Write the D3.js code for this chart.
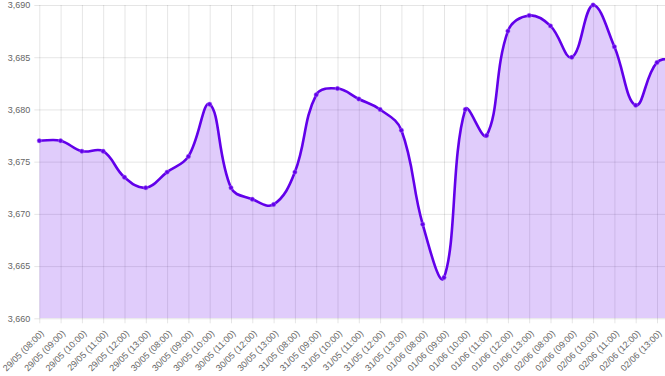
<!DOCTYPE html>
<html>
<head>
<meta charset="utf-8">
<script src="https://cdn.jsdelivr.net/npm/d3@7"></script>
<style>
  body { margin: 0; background: #fff; }
  svg { display: block; font-family: "Liberation Sans", Arial, sans-serif; }
  .tick text { fill: #666; font-size: 9px; }
</style>
</head>
<body>
<div class="svg_container"></div>
<script>
// one point per hour, 08:00 - 13:00, five days (last point sits past the right edge)
var labels = [
    "29/05 (08:00)", "29/05 (09:00)", "29/05 (10:00)", "29/05 (11:00)", "29/05 (12:00)", "29/05 (13:00)",
    "30/05 (08:00)", "30/05 (09:00)", "30/05 (10:00)", "30/05 (11:00)", "30/05 (12:00)", "30/05 (13:00)",
    "31/05 (08:00)", "31/05 (09:00)", "31/05 (10:00)", "31/05 (11:00)", "31/05 (12:00)", "31/05 (13:00)",
    "01/06 (08:00)", "01/06 (09:00)", "01/06 (10:00)", "01/06 (11:00)", "01/06 (12:00)", "01/06 (13:00)",
    "02/06 (08:00)", "02/06 (09:00)", "02/06 (10:00)", "02/06 (11:00)", "02/06 (12:00)", "02/06 (13:00)",
    "03/06 (08:00)"
];
var values = [
    3677.0, 3677.0, 3676.0, 3676.0, 3673.5, 3672.5,
    3674.0, 3675.5, 3680.5, 3672.5, 3671.4, 3670.9,
    3674.0, 3681.4, 3682.0, 3681.0, 3680.0, 3678.0,
    3669.0, 3663.9, 3680.0, 3677.5, 3687.5, 3689.0,
    3688.0, 3685.0, 3690.0, 3686.0, 3680.4, 3684.5,
    3684.8
];
var yTicks = [3660, 3665, 3670, 3675, 3680, 3685, 3690];

const WIDTH = 665;
const HEIGHT = 376;
const LEFT = 39.3;
const STEP = 21.3;
const TOP = 5;
const BOTTOM = 318.3;
const TENSION = 0.4;

var LINE_COLOR = "#6200ea";
var FILL_COLOR = "rgba(98, 0, 234, 0.2)";
var GRID_COLOR = "rgba(0, 0, 0, 0.1)";

var data = labels.map(function (d, i) {
    return {label: d, value: values[i]};
});

var _xScale = d3.scalePoint()
    .domain(labels)
    .range([LEFT, LEFT + STEP * (labels.length - 1)]);

var _yScale = d3.scaleLinear()
    .domain([3660, 3690])
    .range([BOTTOM, TOP]);

// spline with distance-weighted control points, capped to the chart area
var splinePath = function (pts, closeToBase) {
    var right = _xScale.range()[1];
    var clampX = function (v) { return Math.max(LEFT, Math.min(right, v)); };
    var clampY = function (v) { return Math.max(TOP, Math.min(BOTTOM, v)); };
    var ctrl = pts.map(function (p, i) {
        var prev = pts[i - 1] || p;
        var next = pts[i + 1] || p;
        var d01 = Math.hypot(p[0] - prev[0], p[1] - prev[1]);
        var d12 = Math.hypot(next[0] - p[0], next[1] - p[1]);
        var s01 = d01 / (d01 + d12) || 0;
        var s12 = d12 / (d01 + d12) || 0;
        var fa = TENSION * s01, fb = TENSION * s12;
        return {
            px: clampX(p[0] - fa * (next[0] - prev[0])),
            py: clampY(p[1] - fa * (next[1] - prev[1])),
            nx: clampX(p[0] + fb * (next[0] - prev[0])),
            ny: clampY(p[1] + fb * (next[1] - prev[1]))
        };
    });
    var path = d3.path();
    path.moveTo(pts[0][0], pts[0][1]);
    for (var i = 1; i < pts.length; i++) {
        path.bezierCurveTo(ctrl[i - 1].nx, ctrl[i - 1].ny, ctrl[i].px, ctrl[i].py, pts[i][0], pts[i][1]);
    }
    if (closeToBase) {
        path.lineTo(pts[pts.length - 1][0], BOTTOM);
        path.lineTo(pts[0][0], BOTTOM);
        path.closePath();
    }
    return path.toString();
};

var points = data.map(function (d) {
    return [_xScale(d.label), _yScale(d.value)];
});

var svg = d3.select('.svg_container').append('svg')
    .attr('width', WIDTH)
    .attr('height', HEIGHT);

// y axis + horizontal grid
var yAxis = d3.axisLeft(_yScale)
    .tickValues(yTicks)
    .tickFormat(d3.format(","))
    .tickSize(0)
    .tickPadding(4);

var gy = svg.append('g')
    .attr('transform', 'translate(' + (LEFT - 5) + ',0)')
    .call(yAxis);
gy.select('.domain').remove();
gy.selectAll('.tick line')
    .attr('x1', 0)
    .attr('x2', WIDTH)
    .attr('stroke', GRID_COLOR);

// x axis + vertical grid
var xAxis = d3.axisBottom(_xScale)
    .tickValues(labels.slice(0, 30))
    .tickSize(0);

var gx = svg.append('g')
    .attr('transform', 'translate(0,' + BOTTOM + ')')
    .call(xAxis);
gx.select('.domain').remove();
gx.selectAll('.tick line')
    .attr('y1', 5)
    .attr('y2', TOP - BOTTOM)
    .attr('stroke', GRID_COLOR);
gx.selectAll('.tick text')
    .attr('text-anchor', 'end')
    .attr('dy', null)
    .attr('y', 0)
    .attr('dominant-baseline', 'middle')
    .attr('transform', 'translate(3,14) rotate(-45)');

svg.append('clipPath')
    .attr('id', 'plot-clip')
    .append('rect')
    .attr('x', LEFT)
    .attr('y', 0)
    .attr('width', WIDTH - LEFT)
    .attr('height', BOTTOM);

var plot = svg.append('g')
    .attr('clip-path', 'url(#plot-clip)');

plot.append('path')
    .attr('d', splinePath(points, true))
    .attr('fill', FILL_COLOR);

plot.append('path')
    .attr('d', splinePath(points, false))
    .attr('fill', 'none')
    .attr('stroke', LINE_COLOR)
    .attr('stroke-width', 2.6);

svg.append('g')
    .selectAll('circle')
    .data(data.slice(0, 30))
    .enter().append('circle')
    .attr('cx', function (d) { return _xScale(d.label); })
    .attr('cy', function (d) { return _yScale(d.value); })
    .attr('r', 2.2)
    .attr('fill', LINE_COLOR)
    .attr('stroke', 'rgba(170, 120, 245, 0.8)')
    .attr('stroke-width', 0.6);
</script>
</body>
</html>
